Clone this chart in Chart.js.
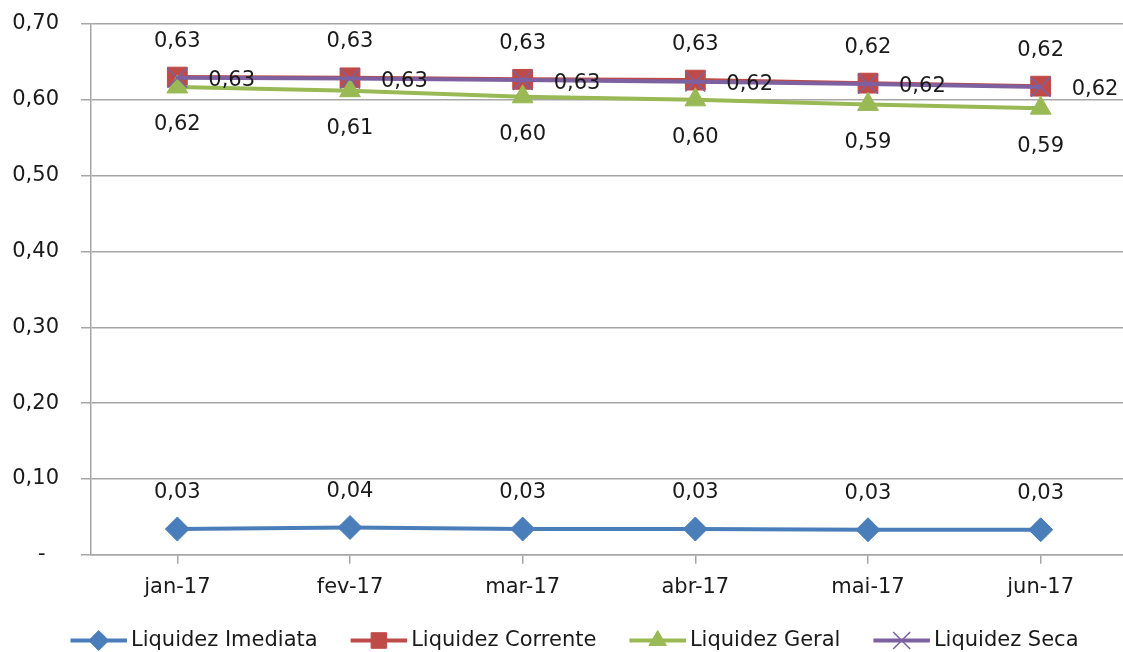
<!DOCTYPE html>
<html>
<head>
<meta charset="utf-8">
<script src="https://cdn.jsdelivr.net/npm/chart.js@4.4.1/dist/chart.umd.min.js"></script>
<style>
  html, body { margin: 0; padding: 0; background: #fff; overflow: hidden; }
  #wrap { width: 1145px; height: 652px; }
</style>
</head>
<body>
<div id="wrap"><canvas id="grafico-liquidez"></canvas></div>
<script>
/* =========================
   Índices de Liquidez 2017
========================= */

const MESES = ['jan-17', 'fev-17', 'mar-17', 'abr-17', 'mai-17', 'jun-17'];

const LIQ_IMEDIATA = [0.034, 0.036, 0.034, 0.034, 0.033, 0.033];
const LIQ_CORRENTE = [0.630, 0.629, 0.627, 0.626, 0.622, 0.618];
const LIQ_GERAL    = [0.617, 0.612, 0.604, 0.600, 0.594, 0.589];
const LIQ_SECA     = [0.629, 0.628, 0.626, 0.624, 0.621, 0.617];

const Y_MIN = 0;
const Y_MAX = 0.7;
const Y_PASSO = 0.1;

const FONTE = 'DejaVu Sans';
const COR_GRADE = '#a6a6a6';
const COR_TEXTO = '#1a1a1a';
const TAM_LEGENDA = 21;
const DESLOC_LEGENDA = 11; // legenda levemente à direita, como no original

const fmt = v => v.toFixed(2).replace('.', ',');

// Rótulos de valor (acima / abaixo / à direita do ponto)
const pluginRotulos = {
  id: 'rotulos',
  afterDatasetsDraw(chart) {
    const ctx = chart.ctx;
    ctx.save();
    ctx.font = `21px "${FONTE}"`;
    ctx.fillStyle = COR_TEXTO;
    chart.data.datasets.forEach((ds, i) => {
      const meta = chart.getDatasetMeta(i);
      meta.data.forEach((pt, j) => {
        const txt = fmt(ds.data[j]);
        ctx.textBaseline = 'middle';
        if (ds.rotulo === 'acima') {
          ctx.textAlign = 'center';
          ctx.fillText(txt, pt.x, pt.y - 36);
        } else if (ds.rotulo === 'abaixo') {
          ctx.textAlign = 'center';
          ctx.fillText(txt, pt.x, pt.y + 38);
        } else {
          ctx.textAlign = 'left';
          ctx.fillText(txt, pt.x + 31, pt.y + 3);
        }
      });
    });
    ctx.restore();
  }
};

// Linha + marcador na legenda
const pluginLegendaMarcador = {
  id: 'legendaMarcador',
  afterLayout(chart) {
    const leg = chart.legend;
    if (!leg) return;
    leg.left += DESLOC_LEGENDA;
    leg.right += DESLOC_LEGENDA;
  },
  afterDraw(chart) {
    const leg = chart.legend;
    if (!leg || !leg.legendHitBoxes) return;
    const ctx = chart.ctx;
    const bw = leg.options.labels.boxWidth;
    leg.legendHitBoxes.forEach((hb, i) => {
      const ds = chart.data.datasets[leg.legendItems[i].datasetIndex];
      const yc = hb.top + hb.height / 2;
      const x0 = hb.left;
      const x1 = hb.left + bw + TAM_LEGENDA / 2 - 4;
      ctx.save();
      ctx.strokeStyle = ds.borderColor;
      ctx.lineWidth = 4;
      ctx.beginPath();
      ctx.moveTo(x0, yc);
      ctx.lineTo(x1, yc);
      ctx.stroke();
      ctx.fillStyle = ds.pointBackgroundColor;
      ctx.strokeStyle = ds.pointBorderColor;
      ctx.lineWidth = ds.pointBorderWidth;
      Chart.helpers.drawPoint(ctx, {
        pointStyle: ds.pointStyle,
        radius: ds.legendaRaio,
        rotation: 0,
        borderWidth: ds.pointBorderWidth
      }, (x0 + x1) / 2, yc);
      ctx.restore();
    });
  }
};

const ctx = document.getElementById('grafico-liquidez').getContext('2d');

new Chart(ctx, {
  type: 'line',
  data: {
    labels: MESES,
    datasets: [
      {
        label: 'Liquidez Imediata',
        data: LIQ_IMEDIATA,
        borderColor: '#4a7ebb',
        backgroundColor: '#4a7ebb',
        pointBackgroundColor: '#4a7ebb',
        pointBorderColor: '#4a7ebb',
        pointBorderWidth: 1,
        pointStyle: 'rectRot',
        pointRadius: 12,
        legendaRaio: 10,
        borderWidth: 4,
        rotulo: 'acima',
        order: 4
      },
      {
        label: 'Liquidez Corrente',
        data: LIQ_CORRENTE,
        borderColor: '#be4b48',
        backgroundColor: '#be4b48',
        pointBackgroundColor: '#be4b48',
        pointBorderColor: '#be4b48',
        pointBorderWidth: 1,
        pointStyle: 'rect',
        pointRadius: 14,
        legendaRaio: 11,
        borderWidth: 4,
        rotulo: 'acima',
        order: 3
      },
      {
        label: 'Liquidez Geral',
        data: LIQ_GERAL,
        borderColor: '#98b954',
        backgroundColor: '#98b954',
        pointBackgroundColor: '#98b954',
        pointBorderColor: '#98b954',
        pointBorderWidth: 1,
        pointStyle: 'triangle',
        pointRadius: 12,
        legendaRaio: 10,
        borderWidth: 4,
        rotulo: 'abaixo',
        order: 2
      },
      {
        label: 'Liquidez Seca',
        data: LIQ_SECA,
        borderColor: '#7d60a0',
        backgroundColor: '#7d60a0',
        pointBackgroundColor: '#7d60a0',
        pointBorderColor: '#7d60a0',
        pointBorderWidth: 1.5,
        pointStyle: 'crossRot',
        pointRadius: 14,
        legendaRaio: 12,
        borderWidth: 4,
        rotulo: 'direita',
        order: 1
      }
    ]
  },
  options: {
    responsive: true,
    maintainAspectRatio: false,
    animation: false,
    layout: { autoPadding: false, padding: { left: 0, right: 18, top: 24, bottom: -9 } },
    plugins: {
      legend: {
        position: 'bottom',
        labels: {
          color: COR_TEXTO,
          font: { family: FONTE, size: TAM_LEGENDA },
          boxWidth: 50,
          boxHeight: 4,
          padding: 33,
          sort: (a, b) => a.datasetIndex - b.datasetIndex,
          generateLabels: chart =>
            Chart.defaults.plugins.legend.labels.generateLabels(chart).map(l => ({
              ...l, lineWidth: 0, fillStyle: 'rgba(0,0,0,0)', strokeStyle: 'rgba(0,0,0,0)'
            }))
        }
      },
      tooltip: { enabled: false }
    },
    scales: {
      x: {
        offset: true,
        afterFit: s => { s.height -= 14; },
        grid: {
          drawOnChartArea: false,
          drawTicks: true,
          tickLength: 9,
          color: COR_GRADE,
          lineWidth: 1.5
        },
        border: { color: COR_GRADE, width: 1.5 },
        ticks: {
          color: COR_TEXTO,
          font: { family: FONTE, size: 21 },
          padding: 11,
          maxRotation: 0
        }
      },
      y: {
        min: Y_MIN,
        max: Y_MAX,
        afterFit: s => { s.width = 91; s.paddingTop = 0; s.paddingBottom = 0; },
        grid: {
          color: COR_GRADE,
          lineWidth: 1.5,
          drawTicks: true,
          tickLength: 10
        },
        border: { color: COR_GRADE, width: 1.5 },
        ticks: {
          stepSize: Y_PASSO,
          color: COR_TEXTO,
          font: { family: FONTE, size: 21 },
          padding: 22,
          callback: v => (Math.abs(v) < 1e-9 ? '-  ' : fmt(v))
        }
      }
    }
  },
  plugins: [pluginRotulos, pluginLegendaMarcador]
});
</script>
</body>
</html>
